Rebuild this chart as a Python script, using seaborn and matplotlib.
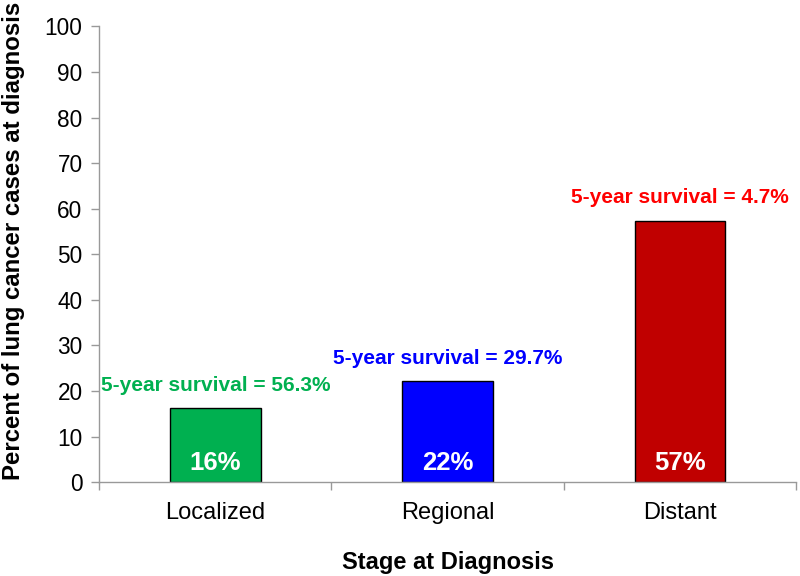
import numpy as np
import pandas as pd
import matplotlib
matplotlib.use('Agg')
import matplotlib.pyplot as plt
import seaborn as sns

# data
stages = ['Localized', 'Regional', 'Distant']
percent_cases = [16.3, 22.1, 57.4]
bar_labels = ['16%', '22%', '57%']
survival_labels = ['5-year survival = 56.3%', '5-year survival = 29.7%', '5-year survival = 4.7%']
bar_colors = ['#00B050', '#0000FF', '#C00000']
text_colors = ['#00B050', '#0000FF', '#FF0000']

sns.set_style('white')
plt.rcParams['font.family'] = ['Liberation Sans', 'DejaVu Sans']
plt.rcParams['text.color'] = 'black'
plt.rcParams['axes.labelcolor'] = 'black'
plt.rcParams['xtick.color'] = 'black'
plt.rcParams['ytick.color'] = 'black'

df = pd.DataFrame({'stage': stages, 'pct': percent_cases})

fig = plt.figure(figsize=(8, 5.76), dpi=100)
ax = fig.add_axes([0.124, 0.163, 0.871, 0.791])

sns.barplot(data=df, x='stage', y='pct', hue='stage', palette=bar_colors,
            order=stages, hue_order=stages, width=0.39, edgecolor='black',
            linewidth=1.0, saturation=1, legend=False, ax=ax)

ax.set_ylim(0, 100)
ax.set_xlim(-0.5, 2.5)
ax.set_yticks(np.arange(0, 101, 10))

# category boundaries get the ticks, labels sit in the middle
ax.set_xticks([-0.5, 0.5, 1.5, 2.5], minor=True)
ax.tick_params(axis='x', which='major', bottom=True, length=0, labelsize=17, pad=14,
               labelcolor='black')
ax.tick_params(axis='x', which='minor', bottom=True, length=6, color='#999999', width=1)
ax.tick_params(axis='y', left=True, length=6, color='#999999', width=1, labelsize=16.3,
               pad=6, labelcolor='black')

for s in ['top', 'right']:
    ax.spines[s].set_visible(False)
for s in ['left', 'bottom']:
    ax.spines[s].set_color('#999999')
    ax.spines[s].set_linewidth(1.0)

ax.set_ylabel('Percent of lung cancer cases at diagnosis', fontsize=17.3,
              fontweight='bold', color='black')
ax.yaxis.set_label_coords(-0.106, 0.53)
ax.set_xlabel('Stage at Diagnosis', fontsize=17, fontweight='bold', labelpad=20, color='black')

for i, v in enumerate(percent_cases):
    ax.text(i, v + 5, survival_labels[i], ha='center', va='center',
            color=text_colors[i], fontsize=15, fontweight='bold')
    ax.text(i, 4.3, bar_labels[i], ha='center', va='center',
            color='white', fontsize=18.5, fontweight='bold')

fig.savefig('out.png', dpi=100)
